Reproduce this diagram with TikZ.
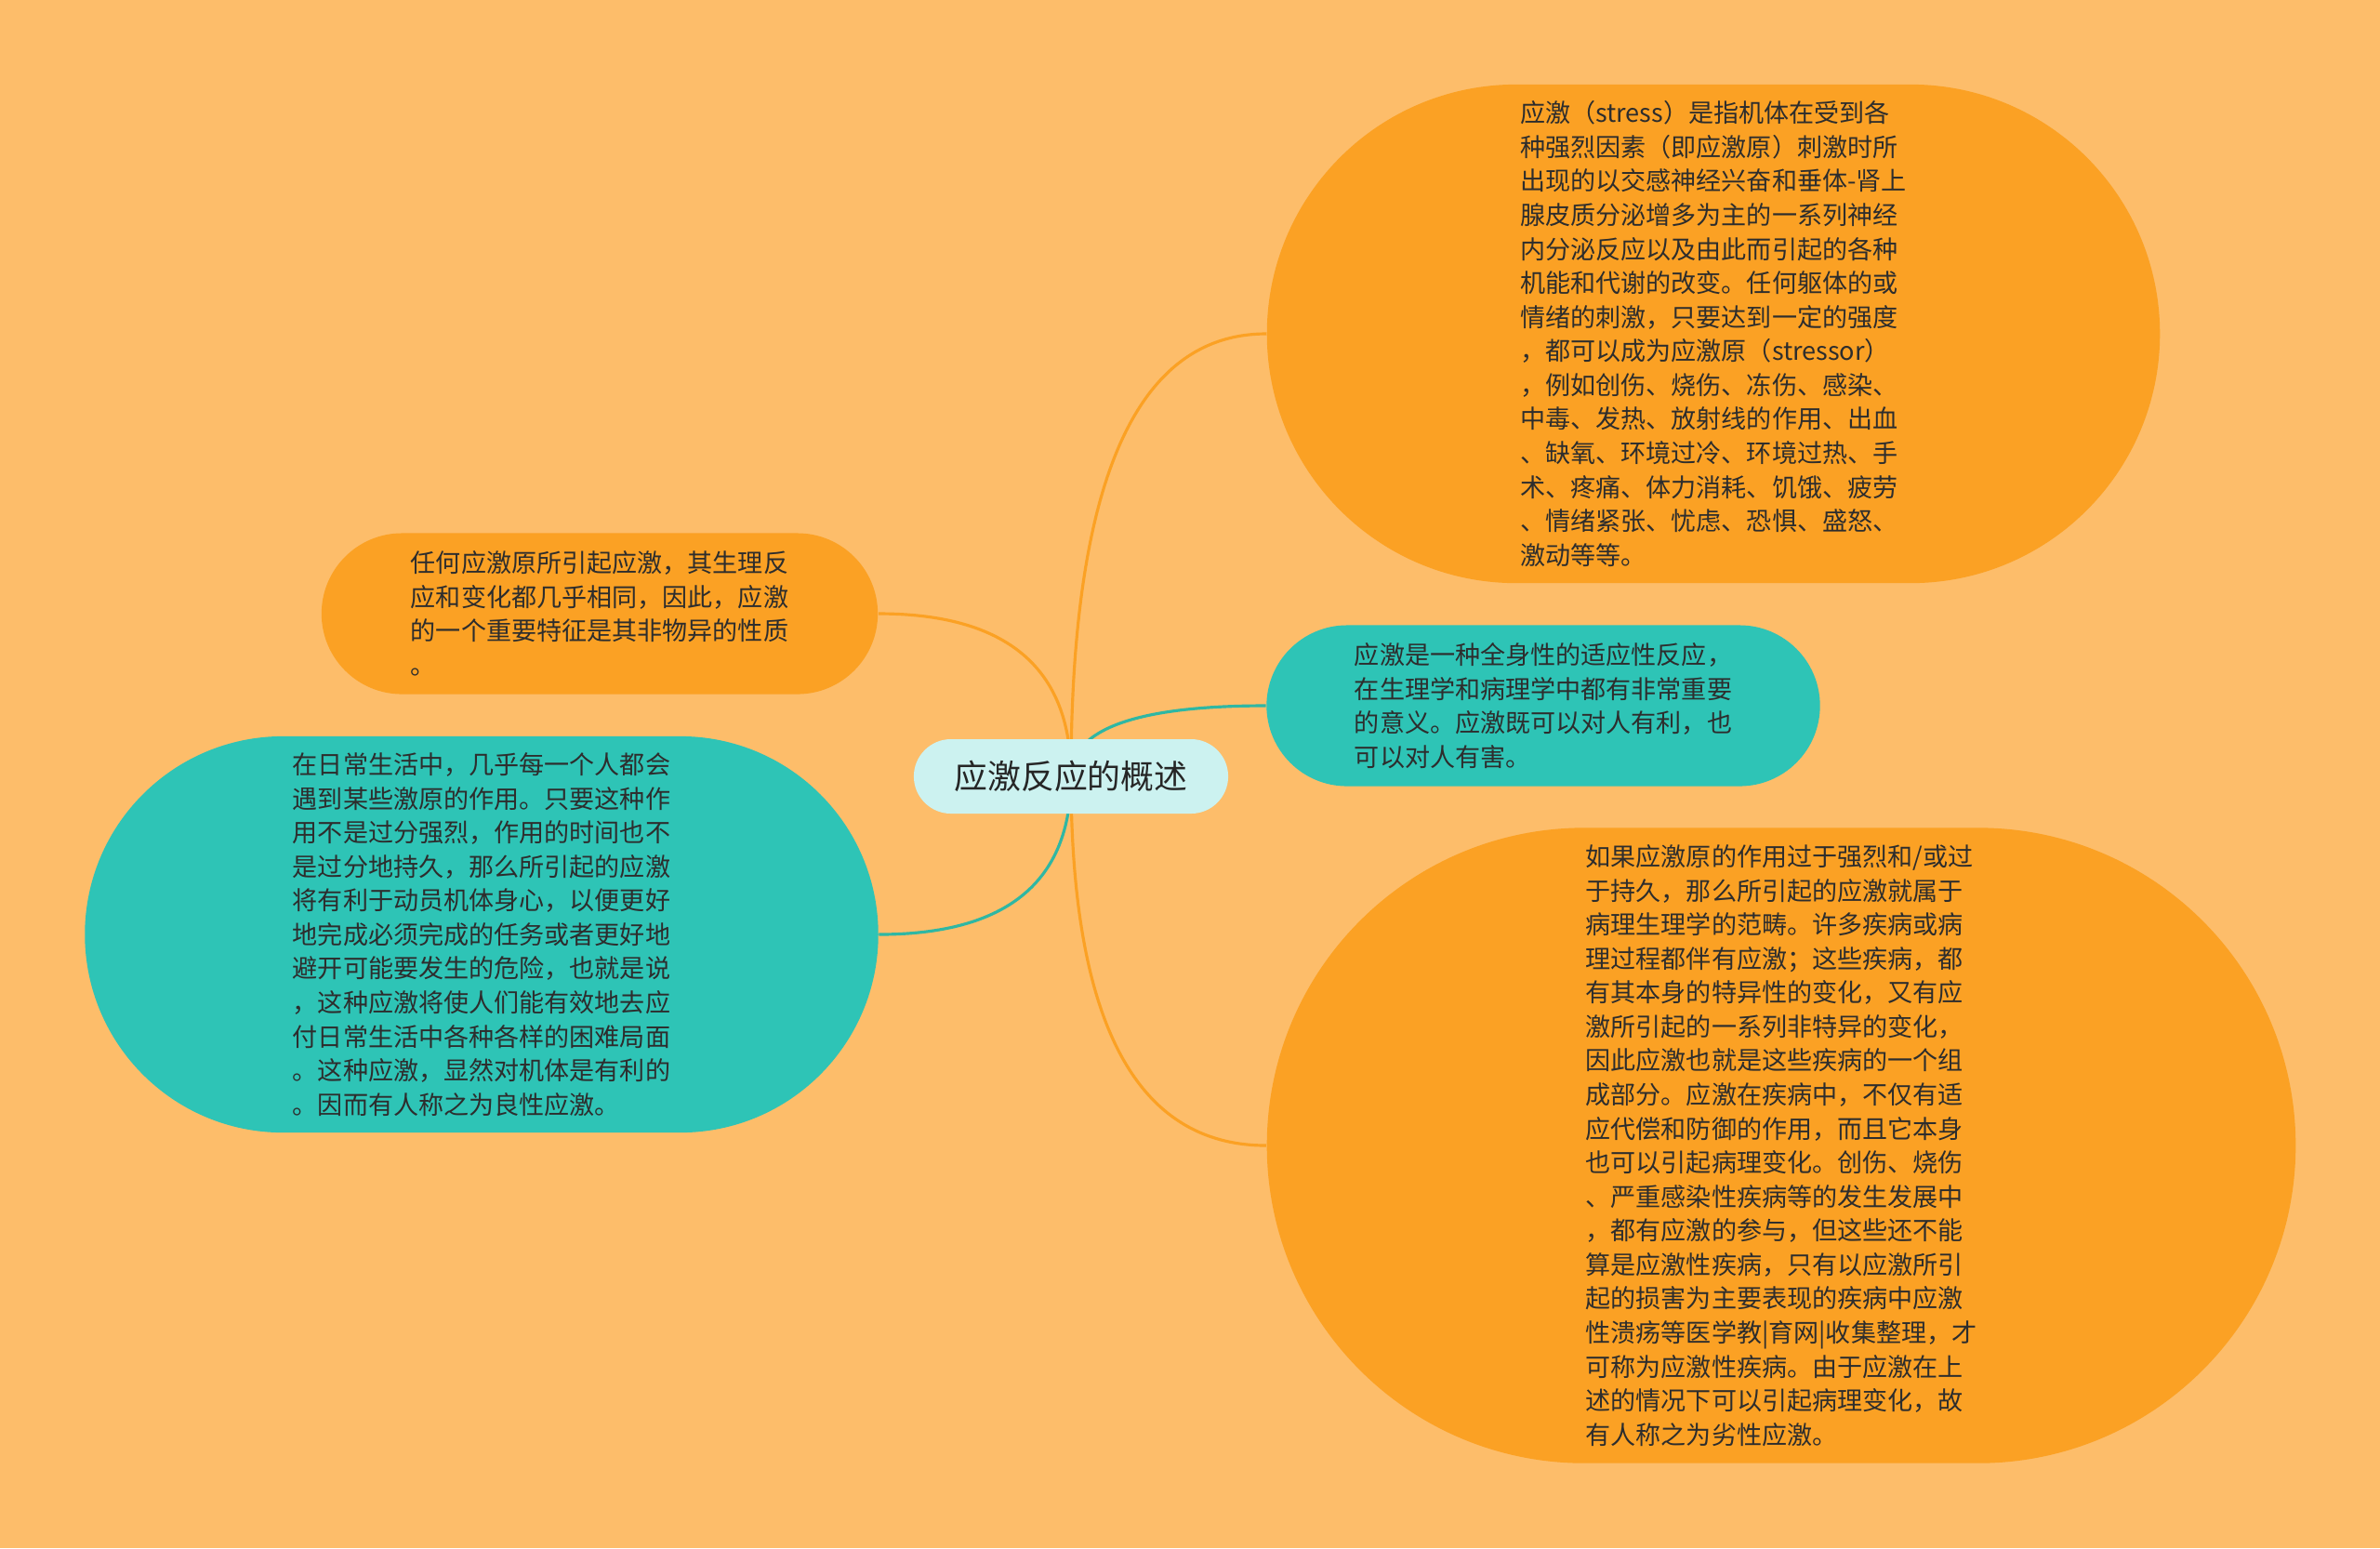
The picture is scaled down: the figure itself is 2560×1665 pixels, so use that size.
\documentclass[tikz,border=0pt]{standalone}
\usepackage{fontspec}
\setmainfont{Noto Sans CJK SC}
\usetikzlibrary{calc}
\pgfdeclarelayer{back}
\pgfdeclarelayer{edges}
\pgfsetlayers{back,edges,main}
\definecolor{paper}{RGB}{253,189,106}
\definecolor{orangefill}{RGB}{251,161,36}
\definecolor{tealfill}{RGB}{46,196,182}
\definecolor{tealstroke}{RGB}{47,183,163}
\definecolor{topicfill}{RGB}{204,242,240}
\definecolor{inktext}{RGB}{45,45,45}
% smooth branch from the topic to a leaf anchor
\newcommand{\branch}[3]{%
    \draw[#1] (#2) .. controls ($(#2)!2/3!(#2 |- #3)$) and ($(#3)!2/3!(#2 |- #3)$) .. (#3);}
\begin{document}
\begin{tikzpicture}[x=0.01cm, y=-0.01cm,
    topic/.style={fill=topicfill, text=black!85, inner sep=0pt,
        font=\fontsize{10.2}{12}\selectfont},
    leaf/.style={inner sep=0pt, align=left, text=inktext,
        font=\fontsize{7.7}{10.4}\selectfont},
    orangeleaf/.style={leaf, fill=orangefill},
    tealleaf/.style={leaf, fill=tealfill},
    orangeedge/.style={line width=0.9pt, draw=orangefill},
    tealedge/.style={line width=0.9pt, draw=tealstroke}]
    % Page
    \useasboundingbox (0,0) rectangle (2560,1665);
    \begin{pgfonlayer}{back}
        \fill[paper] (0,0) rectangle (2560,1665);
    \end{pgfonlayer}

    % Central topic
    \node[topic, minimum width=3.38cm, minimum height=0.8cm, rounded corners=0.4cm]
    (concept) at (1152,835) {应激反应的概述};

    % Right branches
    \node[orangeleaf, minimum width=9.6cm, minimum height=5.36cm, rounded corners=2.68cm]
    (definition) at (1843,359) {应激（stress）是指机体在受到各\\
        种强烈因素（即应激原）刺激时所\\
        出现的以交感神经兴奋和垂体-肾上\\
        腺皮质分泌增多为主的一系列神经\\
        内分泌反应以及由此而引起的各种\\
        机能和代谢的改变。任何躯体的或\\
        情绪的刺激，只要达到一定的强度\\
        ，都可以成为应激原（stressor）\\
        ，例如创伤、烧伤、冻伤、感染、\\
        中毒、发热、放射线的作用、出血\\
        、缺氧、环境过冷、环境过热、手\\
        术、疼痛、体力消耗、饥饿、疲劳\\
        、情绪紧张、忧虑、恐惧、盛怒、\\
        激动等等。};

    \node[tealleaf, minimum width=5.95cm, minimum height=1.73cm, rounded corners=0.865cm]
    (meaning) at (1660,759) {应激是一种全身性的适应性反应，\\
        在生理学和病理学中都有非常重要\\
        的意义。应激既可以对人有利，也\\
        可以对人有害。};

    \node[orangeleaf, minimum width=11.06cm, minimum height=6.83cm, rounded corners=3.415cm]
    (harmful) at (1916,1232) {如果应激原的作用过于强烈和/或过\\
        于持久，那么所引起的应激就属于\\
        病理生理学的范畴。许多疾病或病\\
        理过程都伴有应激；这些疾病，都\\
        有其本身的特异性的变化，又有应\\
        激所引起的一系列非特异的变化，\\
        因此应激也就是这些疾病的一个组\\
        成部分。应激在疾病中，不仅有适\\
        应代偿和防御的作用，而且它本身\\
        也可以引起病理变化。创伤、烧伤\\
        、严重感染性疾病等的发生发展中\\
        ，都有应激的参与，但这些还不能\\
        算是应激性疾病，只有以应激所引\\
        起的损害为主要表现的疾病中应激\\
        性溃疡等医学教|育网|收集整理，才\\
        可称为应激性疾病。由于应激在上\\
        述的情况下可以引起病理变化，故\\
        有人称之为劣性应激。};

    % Left branches
    \node[orangeleaf, minimum width=5.98cm, minimum height=1.73cm, rounded corners=0.865cm]
    (nonspecific) at (645,660) {任何应激原所引起应激，其生理反\\
        应和变化都几乎相同，因此，应激\\
        的一个重要特征是其非物异的性质\\
        。};

    \node[tealleaf, minimum width=8.53cm, minimum height=4.26cm, rounded corners=2.13cm]
    (benign) at (518,1005) {在日常生活中，几乎每一个人都会\\
        遇到某些激原的作用。只要这种作\\
        用不是过分强烈，作用的时间也不\\
        是过分地持久，那么所引起的应激\\
        将有利于动员机体身心，以便更好\\
        地完成必须完成的任务或者更好地\\
        避开可能要发生的危险，也就是说\\
        ，这种应激将使人们能有效地去应\\
        付日常生活中各种各样的困难局面\\
        。这种应激，显然对机体是有利的\\
        。因而有人称之为良性应激。};

    % Connectors
    \begin{pgfonlayer}{edges}
        \branch{orangeedge}{concept.center}{definition.west}
        \branch{tealedge}{concept.center}{meaning.west}
        \branch{orangeedge}{concept.center}{harmful.west}
        \branch{orangeedge}{concept.center}{nonspecific.east}
        \branch{tealedge}{concept.center}{benign.east}
    \end{pgfonlayer}
\end{tikzpicture}
\end{document}
